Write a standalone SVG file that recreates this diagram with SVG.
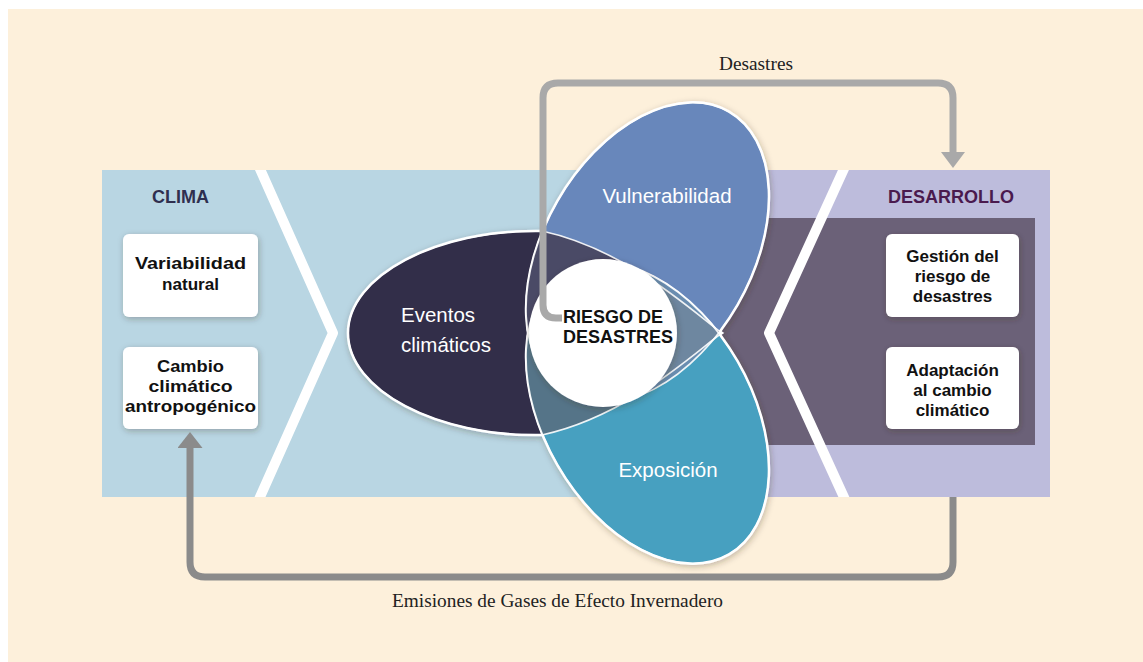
<svg xmlns="http://www.w3.org/2000/svg" xmlns:xlink="http://www.w3.org/1999/xlink" width="1143" height="662" viewBox="0 0 1143 662">
<style>
.box{fill:#ffffff;filter:url(#sh)}
.bt{font-family:"Liberation Sans",Arial,sans-serif;font-weight:bold;font-size:17px;fill:#111111;text-anchor:middle}
.lt{font-family:"Liberation Sans",Arial,sans-serif;font-size:20.5px;fill:#ffffff}
.hd{font-family:"Liberation Sans",Arial,sans-serif;font-weight:bold;font-size:18px}
.sf{font-family:"Liberation Serif","Times New Roman",serif;font-size:19px;fill:#222222;text-anchor:middle}
.stripe{fill:none;stroke:#ffffff;stroke-width:10;stroke-linejoin:round}
.outl{fill:none;stroke:#ffffff;stroke-width:1.6;stroke-opacity:0.9}
.conn{fill:none;stroke-width:7}
</style>
<defs>
<filter id="sh" x="-20%" y="-20%" width="140%" height="140%">
<feDropShadow dx="1" dy="2" stdDeviation="3" flood-color="#3a2a20" flood-opacity="0.3"/>
</filter>
<path id="ev" d="M722,333 C700,318 630,250 542,231 C436,229 348,276 348,333 C348,390 436,437 542,435 C630,416 700,348 722,333 Z"/>
<ellipse id="vu" cx="647.5" cy="252.8" rx="163" ry="104" transform="rotate(-60 647.5 252.8)"/>
<ellipse id="ex" cx="647.5" cy="413.2" rx="163" ry="104" transform="rotate(60 647.5 413.2)"/>
<clipPath id="cE"><use xlink:href="#ev"/></clipPath>
<clipPath id="cV"><use xlink:href="#vu"/></clipPath>
<clipPath id="cP"><rect x="100" y="170" width="952" height="327"/></clipPath>
<marker id="ah1" viewBox="0 0 16 24" refX="0" refY="12" markerWidth="16" markerHeight="24" markerUnits="userSpaceOnUse" orient="auto"><path d="M0,0 L16,12 L0,24 Z" fill="#a9a9a9"/></marker>
<marker id="ah2" viewBox="0 0 16 25" refX="0" refY="12.5" markerWidth="16" markerHeight="25" markerUnits="userSpaceOnUse" orient="auto"><path d="M0,0 L16,12.5 L0,25 Z" fill="#8b8b8b"/></marker>
</defs>

<rect x="8" y="9" width="1135" height="653" fill="#fdf0db"/>

<g id="panels">
<rect x="102" y="170" width="668" height="327" fill="#b9d6e3"/>
<rect x="768" y="170" width="282" height="327" fill="#bdbcdc"/>
<rect x="715" y="218" width="320" height="227" fill="#6b6178"/>
<g clip-path="url(#cP)">
<polyline class="stripe" points="256,160 333,333 256,506"/>
<polyline class="stripe" points="848,160 769,333 848,506"/>
</g>
<text class="hd" x="152" y="203" fill="#2f2f4f">CLIMA</text>
<text class="hd" x="888" y="203" fill="#4a1a4e">DESARROLLO</text>
</g>

<g id="clima-variabilidad">
<rect class="box" x="123" y="234" width="135" height="83" rx="6"/>
<text class="bt" x="190.5" y="269" font-size="18" textLength="111" lengthAdjust="spacingAndGlyphs">Variabilidad</text>
<text class="bt" x="190.5" y="290" font-size="18" textLength="57" lengthAdjust="spacingAndGlyphs">natural</text>
</g>
<g id="clima-cambio">
<rect class="box" x="123" y="347" width="135" height="82" rx="6"/>
<text class="bt" x="190.5" y="372" font-size="18" textLength="67" lengthAdjust="spacingAndGlyphs">Cambio</text>
<text class="bt" x="190.5" y="392" font-size="18" textLength="84" lengthAdjust="spacingAndGlyphs">climático</text>
<text class="bt" x="190.5" y="412" font-size="18" textLength="131" lengthAdjust="spacingAndGlyphs">antropogénico</text>
</g>
<g id="des-gestion">
<rect class="box" x="886" y="234" width="133" height="83" rx="6"/>
<text class="bt" x="952.5" y="262">Gestión del</text>
<text class="bt" x="952.5" y="282">riesgo de</text>
<text class="bt" x="952.5" y="302">desastres</text>
</g>
<g id="des-adaptacion">
<rect class="box" x="886" y="347" width="133" height="82" rx="6"/>
<text class="bt" x="952.5" y="376">Adaptación</text>
<text class="bt" x="952.5" y="396">al cambio</text>
<text class="bt" x="952.5" y="416">climático</text>
</g>

<g id="riesgo-diagrama">
<g filter="url(#sh)">
<use xlink:href="#ev" fill="#312e4a" stroke="#ffffff" stroke-width="2.5"/>
<use xlink:href="#vu" fill="#6787bb" stroke="#ffffff" stroke-width="2.5"/>
<use xlink:href="#ex" fill="#47a0c0" stroke="#ffffff" stroke-width="2.5"/>
</g>
<g clip-path="url(#cV)">
<use xlink:href="#ex" fill="#6a8db0"/>
</g>
<g clip-path="url(#cE)">
<use xlink:href="#vu" fill="#4a4a66"/>
<use xlink:href="#ex" fill="#557488"/>
</g>
<g clip-path="url(#cE)"><g clip-path="url(#cV)">
<use xlink:href="#ex" fill="#6e87a0"/>
</g></g>
<use class="outl" xlink:href="#ev"/>
<use class="outl" xlink:href="#vu"/>
<use class="outl" xlink:href="#ex"/>
</g>

<g id="eventos"><text class="lt" x="401" y="322">Eventos</text><text class="lt" x="401" y="352">climáticos</text></g>
<g id="vulnerabilidad"><text class="lt" x="667" y="203" text-anchor="middle">Vulnerabilidad</text></g>
<g id="exposicion"><text class="lt" x="668" y="477" text-anchor="middle">Exposición</text></g>

<g id="riesgo">
<circle cx="603" cy="333" r="74" fill="#ffffff" filter="url(#sh)"/>
</g>

<g id="connectors">
<path class="conn" stroke="#a9a9a9" d="M562,318 H556 Q543,318 543,305 V98 Q543,83 558,83 H938 Q953,83 953,98 V152" marker-end="url(#ah1)"/>
<path class="conn" stroke="#8b8b8b" d="M953,497 V562 Q953,577 938,577 H205 Q190,577 190,562 V448" marker-end="url(#ah2)"/>
<text class="sf" x="756" y="70" textLength="74" lengthAdjust="spacingAndGlyphs">Desastres</text>
<text class="sf" x="557.5" y="607" textLength="331" lengthAdjust="spacingAndGlyphs">Emisiones de Gases de Efecto Invernadero</text>
</g>

<g id="riesgo-label">
<text class="hd" x="563" y="323" font-size="16.5" fill="#111111">RIESGO DE</text>
<text class="hd" x="563" y="343" font-size="16.5" fill="#111111">DESASTRES</text>
</g>
</svg>
